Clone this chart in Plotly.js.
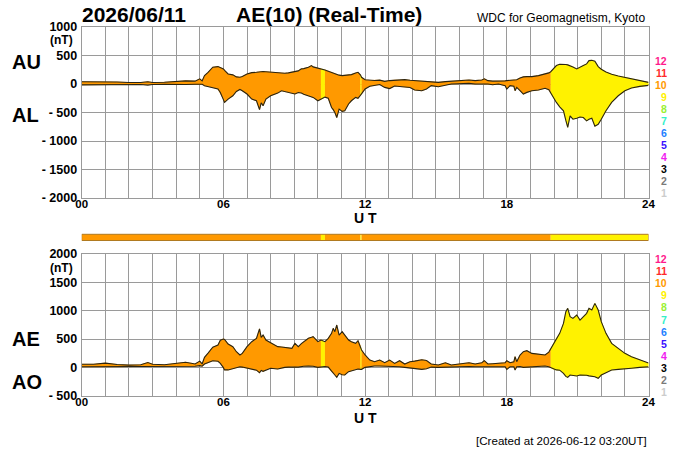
<!DOCTYPE html>
<html>
<head>
<meta charset="utf-8">
<script src="https://cdn.plot.ly/plotly-3.0.1.min.js"></script>
<style>html,body{margin:0;padding:0;background:#fff;}#chart{width:700px;height:450px;}</style>
</head>
<body>
<div id="chart"></div>
<script>
// ---- data (hours UT, nT) ----
var hours = [0.0,0.5,1.0,1.5,2.0,2.5,2.8,3.0,3.5,4.0,4.4,4.8,5.0,5.1,5.2,5.35,5.55,5.77,5.87,6.0,6.05,6.2,6.4,6.55,6.7,6.8,7.0,7.2,7.4,7.53,7.6,7.68,7.8,8.0,8.3,8.46,8.6,8.75,8.9,9.03,9.17,9.3,9.4,9.6,9.73,9.8,10.0,10.13,10.3,10.44,10.58,10.65,10.72,10.8,10.9,11.03,11.14,11.3,11.42,11.6,11.7,11.8,11.85,12.0,12.2,12.4,12.62,12.83,13.04,13.25,13.46,13.68,13.9,14.1,14.4,14.6,14.8,15.1,15.4,15.65,15.93,16.2,16.4,16.66,16.94,17.05,17.2,17.4,17.65,17.93,18.0,18.14,18.3,18.35,18.42,18.56,18.7,18.85,19.06,19.34,19.62,19.78,19.86,19.97,20.1,20.24,20.4,20.5,20.58,20.68,20.8,20.96,21.1,21.24,21.38,21.48,21.6,21.73,21.87,22.0,22.2,22.44,22.72,23.0,23.28,23.63,24.0];
var au = [40,38,45,35,25,25,40,25,30,45,55,50,90,55,147,205,295,305,290,265,240,176,160,125,118,130,176,200,205,217,217,220,215,205,194,190,188,195,205,220,230,265,270,294,323,300,282,265,247,225,205,190,176,165,155,147,150,155,165,194,205,160,118,75,62,62,68,47,60,68,72,76,65,59,44,35,29,29,41,47,59,62,70,59,70,90,59,50,47,55,60,62,68,70,75,106,125,130,130,147,176,195,215,265,323,345,350,341,335,323,300,265,300,323,353,410,415,400,305,260,210,170,140,115,100,65,29];
var al = [-15,-12,-20,-10,-5,-10,-20,-10,-5,-10,-10,-5,-10,-5,-30,-45,-60,-88,-150,-265,-323,-265,-206,-130,-95,-118,-176,-265,-294,-450,-330,-380,-265,-206,-160,-118,-130,-147,-160,-176,-150,-159,-180,-206,-220,-235,-294,-270,-230,-250,-412,-450,-500,-588,-441,-480,-470,-350,-294,-235,-250,-200,-176,-88,-40,-20,-10,-59,-80,-35,-40,-50,-60,-106,-118,-88,-29,-47,-18,0,5,10,12,0,5,10,0,-12,0,-29,-88,-29,-40,-118,-59,-118,-176,-147,-118,-106,-76,-100,-160,-235,-323,-400,-470,-640,-760,-559,-617,-600,-580,-588,-647,-620,-600,-740,-706,-617,-470,-323,-206,-118,-70,-41,-24];
var ae = [55,55,75,50,40,45,85,55,45,75,90,60,110,60,177,250,355,393,480,500,494,412,365,276,218,247,365,453,512,680,530,570,482,435,365,360,353,345,335,423,365,420,453,512,530,541,453,482,453,512,600,688,629,747,570,629,570,482,453,423,470,380,306,218,129,100,129,82,129,70,118,59,100,110,135,120,60,41,82,41,59,65,82,59,82,118,59,65,75,82,118,82,100,188,100,218,276,294,247,235,218,270,330,423,512,600,776,982,1041,894,864,923,835,894,953,1041,1011,1129,1011,806,600,423,335,247,188,129,75];
var ao = [12,12,12,12,10,8,12,8,10,15,18,20,30,20,58,80,117,108,70,-5,-45,-45,-23,-5,10,5,-10,-35,-50,-95,-55,-70,-45,-15,-30,-10,0,5,12,5,5,15,20,23,23,20,0,8,15,5,-76,-110,-135,-176,-106,-130,-135,-76,-60,-35,-30,-35,-35,0,18,23,23,23,18,15,12,0,-10,-18,-35,-25,5,0,5,12,15,20,15,12,12,15,12,12,12,10,-35,10,10,-47,10,15,0,5,12,18,23,10,-5,-35,-45,-50,-106,-160,-176,-135,-145,-153,-135,-135,-140,-150,-155,-165,-194,-135,-94,-47,-35,-20,-15,0,10];

// number of contributing stations, by time segment
var segStart    = [0, 10.13, 10.3, 11.8, 11.85, 19.86];
var segEnd      = [10.13, 10.3, 11.8, 11.85, 19.86, 24];
var segStations = [10, 9, 10, 9, 10, 9];

// tick labels
var xTickVals = [0, 6, 12, 18, 24];
var xTickText = ['00', '06', '12', '18', '24'];
var hourGrid = [];
for (var h = 0; h <= 24; h++) hourGrid.push(h);
var y1TickVals = [1000, 500, 0, -500, -1000, -1500, -2000];
var y1TickText = ['1000', '500', '0', '- 500', '- 1000', '- 1500', '- 2000'];
var y2TickVals = [2000, 1500, 1000, 500, 0, -500];
var y2TickText = ['2000', '1500', '1000', '500', '0', '- 500'];

// legend 1..12 colours
var stationColors = {12:'#ff1a8c', 11:'#ff2a2a', 10:'#ff9900', 9:'#fff200', 8:'#99f033', 7:'#33f0c8',
                     6:'#1e80ff', 5:'#3a10ff', 4:'#f020f0', 3:'#000000', 2:'#7a7a7a', 1:'#cccccc'};

var FONT = 'Liberation Sans, Arial, Helvetica, sans-serif';
var W = 700, H = 450;
function px(x) { return x / W; }
function py(y) { return 1 - y / H; }

var traces = [];
function bandTraces(upper, lower, xa, ya) {
  for (var s = 0; s < segStart.length; s++) {
    var xs = [], up = [], lo = [];
    for (var i = 0; i < hours.length; i++) {
      if (hours[i] >= segStart[s] - 1e-9 && hours[i] <= segEnd[s] + 1e-9) {
        xs.push(hours[i]); up.push(upper[i]); lo.push(lower[i]);
      }
    }
    traces.push({
      x: xs.concat(xs.slice().reverse()),
      y: up.concat(lo.slice().reverse()),
      xaxis: xa, yaxis: ya, type: 'scatter', mode: 'lines',
      fill: 'toself', fillcolor: stationColors[segStations[s]],
      line: {width: 0.6, color: stationColors[segStations[s]]},
      hoverinfo: 'skip', showlegend: false
    });
  }
  [upper, lower].forEach(function (arr) {
    traces.push({x: hours, y: arr, xaxis: xa, yaxis: ya, type: 'scatter', mode: 'lines',
      line: {width: 1.1, color: '#2a2412'}, hoverinfo: 'skip', showlegend: false});
  });
}
bandTraces(au, al, 'x', 'y');
bandTraces(ae, ao, 'x2', 'y2');

var xDomain = [px(81.7), px(648.5)];
var gridC = '#9a9a9a';
function xAxis(anchor) {
  return {
    domain: xDomain, range: [0, 24], anchor: anchor,
    tickmode: 'array', tickvals: xTickVals, ticktext: xTickText, ticks: '',
    ticklabelstandoff: -5,
    tickfont: {family: FONT, size: 11.5, color: '#000', weight: 'bold'},
    showgrid: true, gridcolor: gridC, gridwidth: 1,
    minor: {tickmode: 'array', tickvals: hourGrid, showgrid: true, gridcolor: gridC, gridwidth: 1, ticks: ''},
    showline: true, mirror: true, linecolor: gridC, linewidth: 1, zeroline: false, fixedrange: true
  };
}
function yAxis(domain, range, tv, tt, anchor) {
  return {
    domain: domain, range: range, anchor: anchor,
    tickmode: 'array', tickvals: tv, ticktext: tt, ticks: '',
    ticklabelstandoff: 1,
    tickfont: {family: FONT, size: 12.5, color: '#000', weight: 'bold'},
    showgrid: true, gridcolor: gridC, gridwidth: 1,
    showline: true, mirror: true, linecolor: gridC, linewidth: 1, zeroline: false, fixedrange: true
  };
}

var annotations = [];
function ann(text, x, y, size, anchor, color, weight) {
  annotations.push({text: text, x: px(x), y: py(y), xref: 'paper', yref: 'paper',
    xanchor: anchor || 'left', yanchor: 'middle', showarrow: false,
    font: {family: FONT, size: size, color: color || '#000', weight: weight || 'bold'}});
}
ann('2026/06/11', 80, 15, 21, 'left');
ann('AE(10) (Real-Time)', 234, 15, 21, 'left');
ann('WDC for Geomagnetism, Kyoto', 647, 18, 12, 'right', '#000', 'normal');
ann('AU', 10, 62, 20, 'left');
ann('AL', 10, 115, 20, 'left');
ann('AE', 10, 339, 20, 'left');
ann('AO', 10, 382, 20, 'left');
ann('(nT)', 75, 40.5, 12, 'right');
ann('(nT)', 75, 267.5, 12, 'right');
ann('U T', 365, 218, 14, 'center');
ann('U T', 365, 417.5, 14, 'center');
ann('[Created at 2026-06-12 03:20UT]', 649, 440, 11.6, 'right', '#000', 'normal');
for (var n = 12; n >= 1; n--) {
  ann(String(n), 669, 61 + (12 - n) * 12, 10.5, 'right', stationColors[n]);
  ann(String(n), 669, 259 + (12 - n) * 12.1, 10.5, 'right', stationColors[n]);
}

// station-count colour strip
var shapes = [];
for (var s = 0; s < segStart.length; s++) {
  shapes.push({type: 'rect', xref: 'x', yref: 'paper', x0: segStart[s], x1: segEnd[s],
    y0: py(240.5), y1: py(234.3), fillcolor: stationColors[segStations[s]], line: {width: 0}, layer: 'above'});
}
shapes.push({type: 'rect', xref: 'x', yref: 'paper', x0: 0, x1: 24, y0: py(240.5), y1: py(234.3),
  fillcolor: 'rgba(0,0,0,0)', line: {width: 1, color: '#b07a20'}, layer: 'above'});

var layout = {
  width: W, height: H, margin: {l: 0, r: 0, t: 0, b: 0},
  paper_bgcolor: '#fff', plot_bgcolor: '#fff', showlegend: false,
  xaxis: xAxis('y'), xaxis2: xAxis('y2'),
  yaxis: yAxis([py(198), py(27)], [-2000, 1000], y1TickVals, y1TickText, 'x'),
  yaxis2: yAxis([py(395.7), py(254)], [-500, 2000], y2TickVals, y2TickText, 'x2'),
  annotations: annotations, shapes: shapes
};
Plotly.newPlot('chart', traces, layout, {staticPlot: true, displayModeBar: false});
</script>
</body>
</html>
